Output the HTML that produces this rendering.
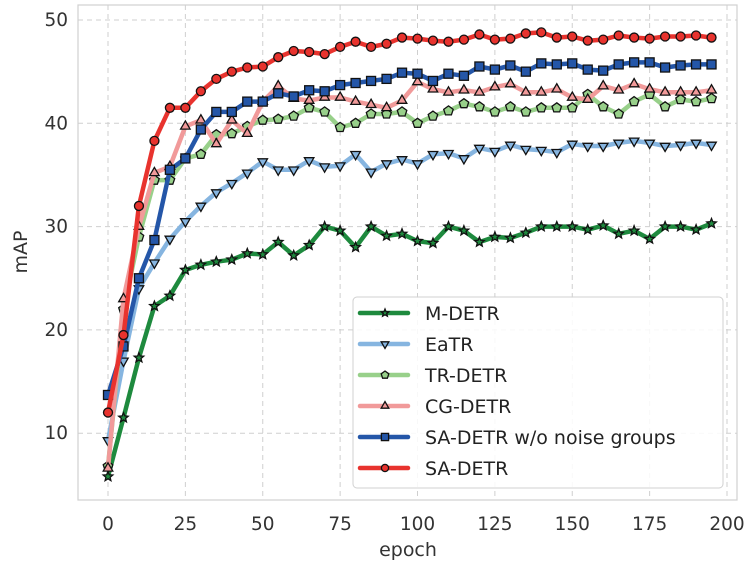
<!DOCTYPE html>
<html><head><meta charset="utf-8"><style>
html,body{margin:0;padding:0;background:#fff;}
svg{display:block;font-family:"DejaVu Sans","Liberation Sans",sans-serif;}
</style></head><body>
<svg id="s" width="746" height="566" viewBox="0 0 746 566" xmlns="http://www.w3.org/2000/svg">
<rect x="78" y="5" width="659" height="495" fill="#fff" stroke="#d0d0d0" stroke-width="1.2"/>
<g id="grid" stroke="#cfcfcf" stroke-width="1" stroke-dasharray="5,4"></g>
<g id="ticks" font-size="18.5" fill="#333"></g>
<text x="408" y="556" font-size="19" fill="#333" text-anchor="middle">epoch</text>
<text transform="translate(27,252) rotate(-90)" font-size="19" fill="#333" text-anchor="middle">mAP</text>
<g id="series"></g>
<rect x="353" y="297" width="370" height="191" rx="4" fill="#fff" fill-opacity="0.85" stroke="#d0d0d0"/>
<g id="legend" font-size="19" fill="#222"></g>
</svg>
<script>
const X=e=>108+e*3.095, Y=v=>20+(50-v)*10.33;
const ns="http://www.w3.org/2000/svg";
function el(t,a,p){const e=document.createElementNS(ns,t);for(const k in a)e.setAttribute(k,a[k]);p.appendChild(e);return e;}
const g=document.getElementById('grid'),tk=document.getElementById('ticks');
for(let e=0;e<=200;e+=25){el('line',{x1:X(e),x2:X(e),y1:5,y2:500},g);const t=el('text',{x:X(e),y:530,'text-anchor':'middle'},tk);t.textContent=e;}
for(let v=10;v<=50;v+=10){el('line',{x1:78,x2:737,y1:Y(v),y2:Y(v)},g);const t=el('text',{x:68,y:Y(v)+6,'text-anchor':'end'},tk);t.textContent=v;}
const D={
sa:[12,19.5,32,38.3,41.5,41.5,43.1,44.3,45,45.4,45.5,46.4,47,46.9,46.7,47.4,47.9,47.4,47.7,48.3,48.2,48.0,47.9,48.1,48.6,48.1,48.2,48.7,48.8,48.3,48.4,48.0,48.1,48.5,48.3,48.2,48.4,48.4,48.5,48.3],
wo:[13.7,18.4,25,28.7,35.5,36.6,39.4,41.1,41.1,42.1,42.1,42.9,42.6,43.2,43.1,43.7,43.9,44.1,44.3,44.9,44.8,44.1,44.8,44.6,45.5,45.2,45.6,45.0,45.8,45.7,45.8,45.2,45.1,45.7,45.9,45.9,45.4,45.6,45.7,45.7],
cg:[6.6,23,30,35.2,35.8,39.7,40.3,38,40.3,39,42.1,43.6,42.4,42.2,42.5,42.5,42.1,41.8,41.5,42.2,44,43.3,43,43.2,43,43.5,43.8,43,43,43.3,42.5,42.3,43.6,43.2,43.8,43.3,43,43,43,43.2],
tr:[6.8,22,29,34.5,34.5,36.6,37,38.9,39,39.7,40.3,40.4,40.7,41.5,41.1,39.6,40,40.9,40.9,41.1,40,40.7,41.2,41.9,41.6,41.1,41.6,41.1,41.5,41.5,41.5,42.8,41.6,40.9,42.1,42.8,41.6,42.3,42.1,42.4],
ea:[9.3,17,24,26.5,28.8,30.5,32,33.3,34.2,35.2,36.3,35.5,35.5,36.4,35.8,35.9,37,35.3,36.1,36.5,36.1,37,37.1,36.6,37.6,37.3,37.9,37.5,37.4,37.2,38,37.8,37.8,38.1,38.3,38.1,37.8,37.9,38.1,37.9],
m:[5.8,11.5,17.3,22.3,23.3,25.8,26.3,26.6,26.8,27.4,27.3,28.5,27.2,28.2,30,29.6,28,30,29.1,29.3,28.6,28.4,30,29.6,28.5,29,28.9,29.4,30,30,30,29.7,30.1,29.3,29.6,28.8,30,30,29.7,30.3]};
const S=[['m','#1e8a3e','star','M-DETR'],['ea','#86b5e0','tdown','EaTR'],['tr','#98d08a','pent','TR-DETR'],['cg','#f19a9a','tup','CG-DETR'],['wo','#2456a8','sq','SA-DETR w/o noise groups'],['sa','#e8332e','circ','SA-DETR']];
function poly(cx,cy,n,r,rot,inner){let p=[];const k=inner?2*n:n;for(let i=0;i<k;i++){const rr=inner&&i%2?inner:r;const a=rot+i*Math.PI*2/k;p.push((cx+rr*Math.cos(a)).toFixed(1)+','+(cy+rr*Math.sin(a)).toFixed(1));}return p.join(' ');}
function mark(type,x,y,c,p,s){s=s||1;const a={fill:c,stroke:'#111','stroke-width':1.3};
if(type=='circ')el('circle',Object.assign({cx:x,cy:y,r:4.5*s},a),p);
else if(type=='sq')el('rect',Object.assign({x:x-4.5*s,y:y-4.5*s,width:9*s,height:9*s},a),p);
else if(type=='tup')el('polygon',Object.assign({points:poly(x,y,3,5.5*s,-Math.PI/2)},a),p);
else if(type=='tdown')el('polygon',Object.assign({points:poly(x,y,3,5.5*s,Math.PI/2)},a),p);
else if(type=='pent')el('polygon',Object.assign({points:poly(x,y,5,5*s,-Math.PI/2)},a),p);
else el('polygon',Object.assign({points:poly(x,y,5,5*s,-Math.PI/2,2.2*s)},a),p);}
const sg=document.getElementById('series'),lg=document.getElementById('legend');
S.forEach(([k,c,t,n],i)=>{const pts=D[k].map((v,j)=>X(j*5).toFixed(1)+','+Y(v).toFixed(1)).join(' ');
el('polyline',{points:pts,fill:'none',stroke:c,'stroke-width':4.5,'stroke-linejoin':'round'},sg);
D[k].forEach((v,j)=>mark(t,X(j*5),Y(v),c,sg));
const ly=313+i*31;el('line',{x1:360,x2:408,y1:ly,y2:ly,stroke:c,'stroke-width':4.5,'stroke-linecap':'round'},lg);mark(t,385,ly,c,lg,0.8);
const tx=el('text',{x:425,y:ly+7},lg);tx.textContent=n;});
</script>
</body></html>
